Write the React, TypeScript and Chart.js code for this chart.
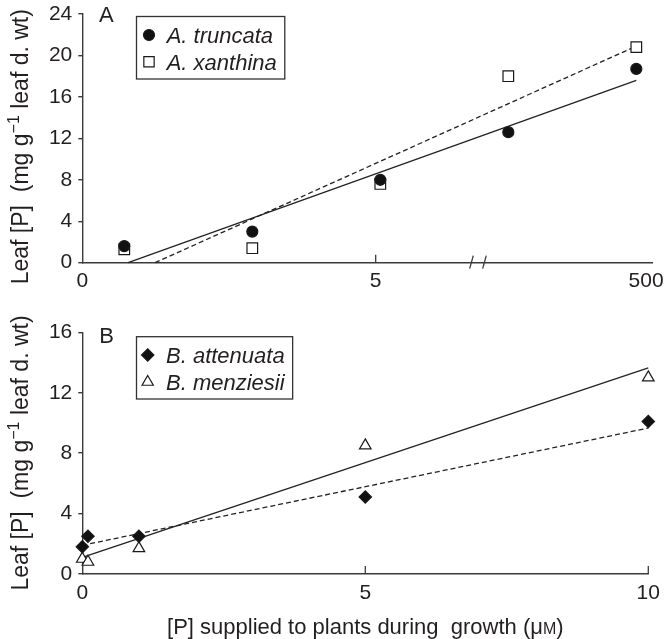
import React, { useEffect, useRef } from 'react';
import { Chart, registerables } from 'chart.js';

Chart.register(...registerables);

// ---------- Panel A (broken x axis, treatments at evenly spaced positions) ----------
const aPositions = [1, 2, 3, 4, 5];
const aTruncata = [1.6, 3.0, 8.0, 12.6, 18.7];
const aXanthina = [1.3, 1.4, 7.6, 18.0, 20.8];
const aTruncataFitX = [1.03, 5.0];
const aTruncataFitY = [0, 17.6];
const aXanthinaFitX = [1.24, 5.0];
const aXanthinaFitY = [0, 20.9];
const aTickPos = [0.672, 2.964, 5.076];
const aTickLabels = ['0', '5', '500'];
const aInnerTicks = [2.964];
const aBreakAt = 3.763;
const aYTicks = [0, 4, 8, 12, 16, 20, 24];
const aSeriesNames = ['A. truncata', 'A. xanthina'];

// ---------- Panel B ----------
const bSupplied = [0, 0.1, 1, 5, 10];
const bAttenuata = [1.8, 2.5, 2.5, 5.1, 10.1];
const bMenziesii = [1.0, 0.8, 1.7, 8.5, 13.0];
const bAttenuataFitX = [0, 10];
const bAttenuataFitY = [1.9, 9.66];
const bMenziesiiFitX = [0, 10];
const bMenziesiiFitY = [1.1, 13.65];
const bTickPos = [0, 5, 10];
const bTickLabels = ['0', '5', '10'];
const bInnerTicks = [5, 10];
const bYTicks = [0, 4, 8, 12, 16];
const bSeriesNames = ['B. attenuata', 'B. menziesii'];

const FONT = '"Liberation Sans", Arial, Helvetica, sans-serif';
const INK = '#231f20';
const AXIS = '#3a3a3a';

const pts = (xs: number[], ys: number[]) => xs.map((x, i) => ({ x, y: ys[i] }));

function marker(ctx: CanvasRenderingContext2D, style: string, x: number, y: number, r: number, fill: string, stroke: string, lw: number) {
  ctx.beginPath();
  if (style === 'circle') ctx.arc(x, y, r, 0, Math.PI * 2);
  else if (style === 'rect') {
    const s = Math.SQRT1_2 * r;
    ctx.rect(x - s, y - s, 2 * s, 2 * s);
  } else if (style === 'rectRot') {
    ctx.moveTo(x - r, y);
    ctx.lineTo(x, y - r);
    ctx.lineTo(x + r, y);
    ctx.lineTo(x, y + r);
    ctx.closePath();
  } else if (style === 'triangle') {
    ctx.moveTo(x, y - r);
    ctx.lineTo(x + r * 0.866, y + r / 2);
    ctx.lineTo(x - r * 0.866, y + r / 2);
    ctx.closePath();
  }
  ctx.fillStyle = fill;
  ctx.fill();
  ctx.lineWidth = lw;
  ctx.strokeStyle = stroke;
  ctx.stroke();
}

type Seg = { t: string; size: number; dy: number };

function drawSegs(ctx: CanvasRenderingContext2D, segs: Seg[], cx: number) {
  let total = 0;
  const widths = segs.map((s) => {
    ctx.font = `${s.size}px ${FONT}`;
    const w = ctx.measureText(s.t).width;
    total += w;
    return w;
  });
  let x = cx - total / 2;
  segs.forEach((s, i) => {
    ctx.font = `${s.size}px ${FONT}`;
    ctx.fillText(s.t, x, s.dy);
    x += widths[i];
  });
}

const yTitleSegs: Seg[] = [
  { t: 'Leaf [P]  (mg g', size: 23, dy: 0 },
  { t: '\u22121', size: 16, dy: -9 },
  { t: ' leaf d. wt)', size: 23, dy: 0 },
];

type LegendItem = { label: string; style: string; r: number; fill: string; rowY: number };

type Decor = {
  innerTicks: number[];
  breakAt?: number;
  legendBox: { x: number; y: number; h: number };
  legend: LegendItem[];
  legendMarkerX: number;
  legendTextX: number;
  panel: { t: string; x: number; y: number };
  yTitleCY: number;
  xTitle?: { cx: number; baseline: number };
};

function decorPlugin(d: Decor) {
  return {
    id: 'decor',
    afterDraw(chart: any) {
      const ctx: CanvasRenderingContext2D = chart.ctx;
      const xs = chart.scales.x;
      const bottom = chart.chartArea.bottom;
      ctx.save();
      ctx.strokeStyle = AXIS;
      ctx.lineWidth = 1.3;
      // inward x ticks
      d.innerTicks.forEach((v) => {
        const px = xs.getPixelForValue(v);
        ctx.beginPath();
        ctx.moveTo(px, bottom);
        ctx.lineTo(px, bottom - 8);
        ctx.stroke();
      });
      // axis break
      if (d.breakAt !== undefined) {
        const px = xs.getPixelForValue(d.breakAt);
        [-6.5, 6.5].forEach((o) => {
          ctx.beginPath();
          ctx.moveTo(px + o - 1.8, bottom + 6);
          ctx.lineTo(px + o + 1.8, bottom - 7);
          ctx.stroke();
        });
      }
      // legend
      ctx.font = `italic 22px ${FONT}`;
      let maxW = 0;
      d.legend.forEach((it) => {
        maxW = Math.max(maxW, ctx.measureText(it.label).width);
      });
      ctx.strokeStyle = '#333';
      ctx.lineWidth = 1.3;
      const bw = d.legendTextX + maxW + 8 - d.legendBox.x;
      ctx.strokeRect(d.legendBox.x, d.legendBox.y, bw, d.legendBox.h);
      d.legend.forEach((it) => {
        marker(ctx, it.style, d.legendMarkerX, it.rowY, it.r, it.fill, '#1a1a1a', 1.2);
        ctx.fillStyle = INK;
        ctx.font = `italic 22px ${FONT}`;
        ctx.textAlign = 'left';
        ctx.textBaseline = 'alphabetic';
        ctx.fillText(it.label, d.legendTextX, it.rowY + 8);
      });
      // panel letter
      ctx.fillStyle = INK;
      ctx.font = `22px ${FONT}`;
      ctx.textAlign = 'left';
      ctx.textBaseline = 'alphabetic';
      ctx.fillText(d.panel.t, d.panel.x, d.panel.y);
      // y title
      ctx.save();
      ctx.translate(27.5, d.yTitleCY);
      ctx.rotate(-Math.PI / 2);
      ctx.fillStyle = INK;
      ctx.textAlign = 'left';
      ctx.textBaseline = 'alphabetic';
      drawSegs(ctx, yTitleSegs, 0);
      ctx.restore();
      // x title
      if (d.xTitle) {
        ctx.fillStyle = INK;
        ctx.textAlign = 'left';
        ctx.textBaseline = 'alphabetic';
        ctx.save();
        ctx.translate(0, d.xTitle.baseline);
        drawSegs(
          ctx,
          [
            { t: '[P] supplied to plants during  growth (\u03bc', size: 22, dy: 0 },
            { t: 'M', size: 16, dy: 0 },
            { t: ')', size: 22, dy: 0 },
          ],
          d.xTitle.cx
        );
        ctx.restore();
      }
      ctx.restore();
    },
  };
}

function yScale(max: number, ticks: number[]) {
  return {
    type: 'linear',
    min: 0,
    max,
    afterBuildTicks: (s: any) => {
      s.ticks = ticks.map((v) => ({ value: v }));
    },
    ticks: { padding: 6, color: INK, font: { family: FONT, size: 21 } },
    grid: { drawOnChartArea: false, drawTicks: true, tickLength: 4, color: AXIS, lineWidth: 1.4 },
    border: { display: true, color: AXIS, width: 1.4 },
    afterFit: (s: any) => {
      s.width = 82.3;
      s.paddingTop = 0;
      s.paddingBottom = 0;
    },
  };
}

function xScale(min: number, max: number, tickPos: number[], labels: string[], pad: number, height: number) {
  return {
    type: 'linear',
    min,
    max,
    afterBuildTicks: (s: any) => {
      s.ticks = tickPos.map((v) => ({ value: v }));
    },
    ticks: {
      autoSkip: false,
      maxRotation: 0,
      padding: pad,
      color: INK,
      font: { family: FONT, size: 21 },
      callback: (_v: any, i: number) => labels[i],
    },
    grid: { display: false, drawTicks: false },
    border: { display: true, color: AXIS, width: 1.4 },
    afterFit: (s: any) => {
      s.height = height;
      s.paddingLeft = 0;
      s.paddingRight = 0;
    },
  };
}

const scatterSet = (data: any[], style: string, r: number, fill: string) => ({
  data,
  pointStyle: style,
  pointRadius: r,
  pointBackgroundColor: fill,
  pointBorderColor: '#1a1a1a',
  pointBorderWidth: 1.2,
  showLine: false,
  clip: false,
});

const fitSet = (data: any[], dash: number[]) => ({
  data,
  showLine: true,
  pointRadius: 0,
  borderColor: '#222',
  borderWidth: 1.3,
  borderDash: dash,
  fill: false,
  clip: false,
});

export default function App() {
  const refA = useRef<HTMLCanvasElement>(null);
  const refB = useRef<HTMLCanvasElement>(null);

  useEffect(() => {
    Chart.defaults.font.family = FONT;
    const common = {
      responsive: false,
      animation: false,
      events: [],
      plugins: { legend: { display: false }, tooltip: { enabled: false } },
    };

    const chartA = new Chart(refA.current as HTMLCanvasElement, {
      type: 'scatter',
      data: {
        datasets: [
          scatterSet(pts(aPositions, aTruncata), 'circle', 5.5, '#111'),
          scatterSet(pts(aPositions, aXanthina), 'rect', 7.5, '#fff'),
          fitSet(pts(aTruncataFitX, aTruncataFitY), []),
          fitSet(pts(aXanthinaFitX, aXanthinaFitY), [5, 3]),
        ] as any,
      },
      options: {
        ...common,
        layout: { padding: { left: 0, right: 12.3, top: 14, bottom: 0 } },
        scales: {
          x: xScale(0.672, 5.128, aTickPos, aTickLabels, 6, 37.3),
          y: yScale(24, aYTicks),
        },
      } as any,
      plugins: [
        decorPlugin({
          innerTicks: aInnerTicks,
          breakAt: aBreakAt,
          legendBox: { x: 136.5, y: 16.5, h: 62.5 },
          legendMarkerX: 149,
          legendTextX: 166.7,
          legend: [
            { label: aSeriesNames[0], style: 'circle', r: 5.5, fill: '#111', rowY: 35 },
            { label: aSeriesNames[1], style: 'rect', r: 7.3, fill: '#fff', rowY: 61.7 },
          ],
          panel: { t: 'A', x: 99, y: 22 },
          yTitleCY: 146.7,
        }),
      ],
    });

    const chartB = new Chart(refB.current as HTMLCanvasElement, {
      type: 'scatter',
      data: {
        datasets: [
          scatterSet(pts(bSupplied, bAttenuata), 'rectRot', 6.2, '#111'),
          scatterSet(pts(bSupplied, bMenziesii), 'triangle', 6.7, '#fff'),
          fitSet(pts(bMenziesiiFitX, bMenziesiiFitY), []),
          fitSet(pts(bAttenuataFitX, bAttenuataFitY), [5, 3]),
        ] as any,
      },
      options: {
        ...common,
        layout: { padding: { left: 0, right: 16.7, top: 32.3, bottom: 0 } },
        scales: {
          x: xScale(0, 10, bTickPos, bTickLabels, 7, 65),
          y: yScale(16, bYTicks),
        },
      } as any,
      plugins: [
        decorPlugin({
          innerTicks: bInnerTicks,
          legendBox: { x: 136.5, y: 36.7, h: 62.3 },
          legendMarkerX: 147.7,
          legendTextX: 166,
          legend: [
            { label: bSeriesNames[0], style: 'rectRot', r: 6.2, fill: '#111', rowY: 55 },
            { label: bSeriesNames[1], style: 'triangle', r: 6.5, fill: '#fff', rowY: 82 },
          ],
          panel: { t: 'B', x: 99.3, y: 42.7 },
          yTitleCY: 153,
          xTitle: { cx: 365.3, baseline: 333.5 },
        }),
      ],
    });

    return () => {
      chartA.destroy();
      chartB.destroy();
    };
  }, []);

  return (
    <div style={{ position: 'absolute', left: 0, top: 0, width: 665, height: 639, background: '#fff' }}>
      <canvas ref={refA} width={665} height={300} style={{ position: 'absolute', left: 0, top: 0, display: 'block' }} />
      <canvas ref={refB} width={665} height={339} style={{ position: 'absolute', left: 0, top: 300, display: 'block' }} />
    </div>
  );
}
